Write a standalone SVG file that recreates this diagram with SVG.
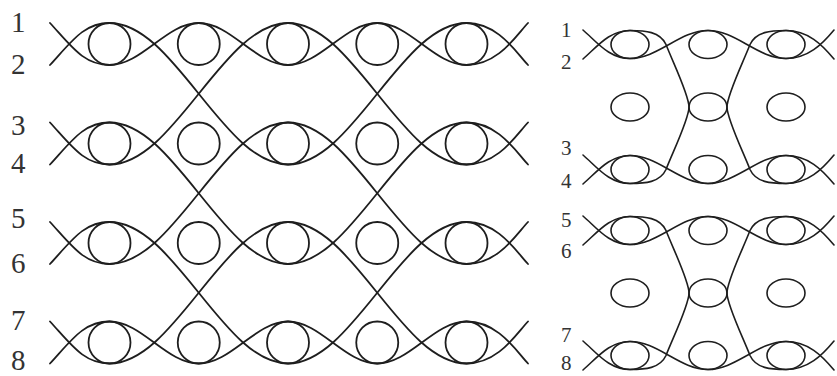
<svg xmlns="http://www.w3.org/2000/svg" xmlns:xlink="http://www.w3.org/1999/xlink" width="837" height="376" viewBox="0 0 837 376">
<style>
.s{fill:none;stroke:#1e1e1e;stroke-width:1.8;stroke-linecap:round;stroke-linejoin:round}
.r{fill:none;stroke:#1e1e1e;stroke-width:1.6;stroke-linecap:round;stroke-linejoin:round}
.c{fill:none;stroke:#1e1e1e;stroke-width:1.8}
.e{fill:none;stroke:#1e1e1e;stroke-width:1.6}
.lb{font-family:"Liberation Serif","Times New Roman",serif;font-size:29px;fill:#333}
.lr{font-family:"Liberation Serif","Times New Roman",serif;font-size:21px;fill:#333}
</style>
<rect width="837" height="376" fill="#fff"/>
<g id="left-labels">
<text class="lb" x="11" y="32">1</text>
<text class="lb" x="11" y="74">2</text>
<text class="lb" x="11" y="135">3</text>
<text class="lb" x="11" y="173">4</text>
<text class="lb" x="11" y="228">5</text>
<text class="lb" x="11" y="273">6</text>
<text class="lb" x="11" y="330">7</text>
<text class="lb" x="11" y="370">8</text>
</g>
<g id="left-strands">
<path class="s" d="M50,23 c22,24 34,42 59.5,42 c16.15,0 30.07,-10.24 44.625,-21 c14.55,-10.76 28.48,-21 44.625,-21 c16.15,0 30.07,10.24 44.625,21 c14.55,10.76 28.48,21 44.625,21 c16.150,0 30.07,-10.24 44.625,-21 c14.55,-10.76 28.48,-21 44.625,-21 c16.15,0 30.07,10.24 44.625,21 c14.55,10.76 28.48,21 44.625,21 c32,0 50,-30 61.5,-42"/>
<path class="s" d="M50,65 c22,-24 34,-42 59.5,-42 c32.3,0 60.15,34.5 89.25,70.75 c29.1,36.25 56.95,70.75 89.25,70.75 c32.3,0 60.15,-34.5 89.25,-70.75 c29.1,-36.25 56.95,-70.75 89.25,-70.75 c32,0 50,30 61.5,42"/>
<path class="s" d="M50,122.5 c22,24 34,42 59.5,42 c32.3,0 60.15,-34.5 89.25,-70.75 c29.1,-36.25 56.95,-70.75 89.25,-70.75 c32.3,0 60.15,34.5 89.25,70.75 c29.1,36.25 56.95,70.75 89.25,70.75 c32,0 50,-30 61.5,-42"/>
<path class="s" d="M50,164.5 c22,-24 34,-42 59.5,-42 c32.3,0 60.15,34.5 89.25,70.75 c29.1,36.25 56.95,70.75 89.25,70.75 c32.3,0 60.15,-34.5 89.25,-70.75 c29.1,-36.25 56.95,-70.75 89.25,-70.75 c32,0 50,30 61.5,42"/>
<path class="s" d="M50,222 c22,24 34,42 59.5,42 c32.3,0 60.15,-34.5 89.25,-70.75 c29.1,-36.25 56.95,-70.75 89.25,-70.75 c32.3,0 60.15,34.5 89.25,70.75 c29.1,36.25 56.95,70.75 89.25,70.75 c32,0 50,-30 61.5,-42"/>
<path class="s" d="M50,264 c22,-24 34,-42 59.5,-42 c32.3,0 60.15,34.5 89.25,70.75 c29.1,36.25 56.95,70.75 89.25,70.75 c32.3,0 60.15,-34.5 89.25,-70.75 c29.1,-36.25 56.95,-70.75 89.25,-70.75 c32,0 50,30 61.5,42"/>
<path class="s" d="M50,321.5 c22,24 34,42 59.5,42 c32.3,0 60.15,-34.5 89.25,-70.75 c29.1,-36.25 56.95,-70.75 89.25,-70.75 c32.3,0 60.15,34.5 89.25,70.75 c29.1,36.25 56.95,70.75 89.25,70.75 c32,0 50,-30 61.5,-42"/>
<path class="s" d="M50,363.5 c22,-24 34,-42 59.5,-42 c16.15,0 30.07,10.24 44.625,21 c14.55,10.76 28.48,21 44.625,21 c16.15,0 30.07,-10.24 44.625,-21 c14.55,-10.76 28.48,-21 44.625,-21 c16.15,0 30.07,10.24 44.625,21 c14.55,10.76 28.48,21 44.625,21 c16.15,0 30.07,-10.24 44.625,-21 c14.55,-10.76 28.48,-21 44.625,-21 c32,0 50,30 61.5,42"/>
</g>
<g id="left-circles">
<circle class="c" cx="109.5" cy="44" r="21"/><circle class="c" cx="198.75" cy="44" r="21"/><circle class="c" cx="288" cy="44" r="21"/><circle class="c" cx="377.25" cy="44" r="21"/><circle class="c" cx="466.5" cy="44" r="21"/>
<circle class="c" cx="109.5" cy="143.5" r="21"/><circle class="c" cx="198.75" cy="143.5" r="21"/><circle class="c" cx="288" cy="143.5" r="21"/><circle class="c" cx="377.25" cy="143.5" r="21"/><circle class="c" cx="466.5" cy="143.5" r="21"/>
<circle class="c" cx="109.5" cy="243" r="21"/><circle class="c" cx="198.75" cy="243" r="21"/><circle class="c" cx="288" cy="243" r="21"/><circle class="c" cx="377.25" cy="243" r="21"/><circle class="c" cx="466.5" cy="243" r="21"/>
<circle class="c" cx="109.5" cy="342.5" r="21"/><circle class="c" cx="198.75" cy="342.5" r="21"/><circle class="c" cx="288" cy="342.5" r="21"/><circle class="c" cx="377.25" cy="342.5" r="21"/><circle class="c" cx="466.5" cy="342.5" r="21"/>
</g>
<g id="right-labels">
<text class="lr" x="561" y="37">1</text>
<text class="lr" x="561" y="69">2</text>
<text class="lr" x="561" y="155">3</text>
<text class="lr" x="561" y="188">4</text>
<text class="lr" x="561" y="227">5</text>
<text class="lr" x="561" y="258">6</text>
<text class="lr" x="561" y="342">7</text>
<text class="lr" x="561" y="370">8</text>
</g>
<g id="right-block-1">
<path class="r" d="M583,30 c14,12 26,28.5 47,28.5 c14.11,0 26.28,-7 39,-14 c12.72,-7.17 24.89,-14 39,-14 c14.11,0 26.28,7 39,14 c12.72,7.17 24.89,14 39,14 c22,0 36,-14 48,-28.5"/>
<path class="r" d="M583,184 c14,-12 26,-28.5 47,-28.5 c14.11,0 26.28,7 39,14 c12.72,7.17 24.89,14 39,14 c14.11,0 26.28,-7 39,-14 c12.72,-7.17 24.89,-14 39,-14 c22,0 36,14 48,28.5"/>
<path class="r" d="M583,59 c14,-12 26,-28.5 47,-28.5 c15,0 30,1 36,14 c7,18 23,50.5 23,62.5 c0,12 -16,44.5 -23,62.5 c-6,13 -21,14 -36,14 c-21,0 -33,-16.5 -47,-28.5"/>
<path class="r" d="M834,59 c-12,-14.5 -26,-28.5 -48,-28.5 c-15,0 -30,1 -36,14 c-7,18 -23,50.5 -23,62.5 c0,12 16,44.5 23,62.5 c6,13 21,14 36,14 c22,0 36,-14 48,-28.5"/>
<ellipse class="e" cx="630" cy="44.5" rx="19" ry="14"/><ellipse class="e" cx="708" cy="44.5" rx="19" ry="14"/><ellipse class="e" cx="786" cy="44.5" rx="19" ry="14"/>
<ellipse class="e" cx="630" cy="107" rx="19" ry="14"/><ellipse class="e" cx="708" cy="107" rx="19" ry="14"/><ellipse class="e" cx="786" cy="107" rx="19" ry="14"/>
<ellipse class="e" cx="630" cy="169.5" rx="19" ry="14"/><ellipse class="e" cx="708" cy="169.5" rx="19" ry="14"/><ellipse class="e" cx="786" cy="169.5" rx="19" ry="14"/>
</g>
<use id="right-block-2" xlink:href="#right-block-1" href="#right-block-1" transform="translate(0,186)"/>
</svg>
